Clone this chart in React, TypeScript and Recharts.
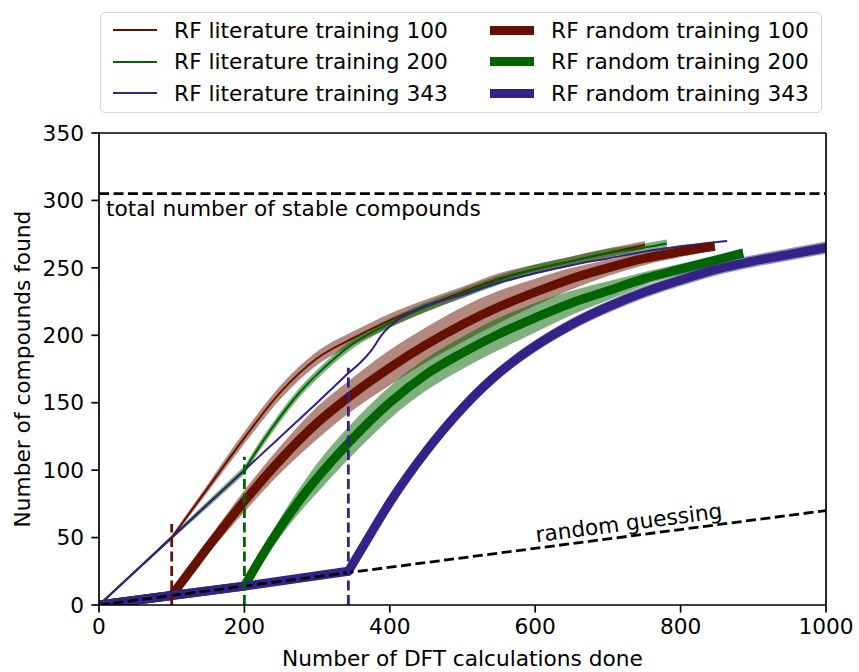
import React from 'react';
import {
  ComposedChart,
  Line,
  Area,
  XAxis,
  YAxis,
  ReferenceLine,
  ReferenceDot,
  Legend,
} from 'recharts';

const FONT = '"DejaVu Sans", sans-serif';
const FONT_SIZE = 21.7;

const BROWN = '#661100';
const GREEN = '#006400';
const BLUE = '#332288';

const xTicks = [0, 200, 400, 600, 800, 1000];
const yTicks = [0, 50, 100, 150, 200, 250, 300, 350];

// number of stable compounds in the full set
const totalStable = 305;

// expected yield when picking compounds at random
const randomGuessing = [
  { x: 0, y: 0 },
  { x: 1000, y: 70 },
];

// [DFT calculations done, mean compounds found, std over runs]
type Pt = [number, number, number];

const litTraining100: Pt[] = [
  [0, 0, 0], [50, 25, 0.5], [100, 50, 1.5], [150, 87, 3], [200, 124, 4.5],
  [250, 158, 5], [300, 183, 5], [350, 198, 5], [400, 211, 5], [450, 222, 4.5],
  [500, 232, 4], [550, 242, 4], [600, 249, 3.5], [650, 255, 3.5], [700, 261, 3.5],
  [751, 267, 3],
];

const litTraining200: Pt[] = [
  [0, 0, 0], [50, 25, 0.5], [100, 50, 1.5], [150, 75, 2.5], [200, 100, 3],
  [225, 121, 3.5], [250, 140, 3.5], [275, 157, 3.5], [300, 171, 3.5], [350, 194, 3.5],
  [400, 209, 3.5], [450, 221, 3.5], [500, 231, 3.5], [550, 241, 3.5], [600, 249, 3.5],
  [650, 255, 3.5], [700, 261, 3], [750, 265, 3], [781, 268, 3],
];

const litTraining343: Pt[] = [
  [0, 0, 0], [100, 50, 0.5], [200, 100, 0.5], [250, 125, 0.5], [300, 150, 0.5],
  [343, 172, 0.5], [360, 180, 0.5], [375, 189, 0.5], [390, 201, 0.5], [410, 211, 0.5],
  [440, 220, 0.5], [500, 230, 0.5], [550, 239, 0.5], [600, 246, 0.5], [650, 252, 0.5],
  [700, 257, 0.5], [750, 262, 0.5], [800, 266, 0.5], [864, 270, 0.5],
];

const randTraining100: Pt[] = [
  [0, 0, 0], [50, 3.5, 0], [100, 7, 0.5], [125, 25, 3], [150, 43, 5],
  [200, 77, 8], [250, 108, 10], [300, 135, 12], [343, 154, 12], [400, 176, 13],
  [450, 193, 13], [500, 208, 13], [550, 221, 12], [600, 232, 10], [650, 242, 8],
  [700, 250, 6], [750, 257, 5], [800, 262, 4], [847, 266, 3],
];

const randTraining200: Pt[] = [
  [0, 0, 0], [100, 7, 0], [200, 14, 0.5], [225, 37, 4], [250, 58, 7],
  [275, 77, 9], [300, 94, 11], [343, 120, 12], [400, 150, 12], [450, 171, 12],
  [500, 187, 12], [550, 201, 12], [600, 213, 11], [650, 224, 9], [700, 233, 7],
  [750, 242, 5], [800, 249, 4], [850, 256, 3.5], [886, 261, 3.5],
];

const randTraining343: Pt[] = [
  [0, 0, 0], [100, 7, 0.5], [200, 14, 1], [343, 25, 2], [375, 54, 3.5],
  [400, 76, 4.5], [450, 114, 4.5], [500, 146, 4.5], [550, 172, 4.5], [600, 192, 4.5],
  [650, 208, 4.5], [700, 221, 4.5], [750, 232, 4.5], [800, 241, 4.5], [850, 249, 4.5],
  [900, 255, 4.5], [950, 260, 4.5], [1000, 265, 4.5],
];

// size of each training set, and how high its marker goes
const trainingSizes = [100, 200, 343];
const cutoffTop = [60, 110, 176];
const cutoffColors = [BROWN, GREEN, BLUE];

const toRows = (pts: Pt[]) =>
  pts.map(([x, y, sd]) => ({ x, y, band: [y - sd, y + sd] }));

const seriesList = [
  { name: 'RF literature training 100', pts: litTraining100, train: trainingSizes[0], color: BROWN, width: 2 },
  { name: 'RF literature training 200', pts: litTraining200, train: trainingSizes[1], color: GREEN, width: 2 },
  { name: 'RF literature training 343', pts: litTraining343, train: trainingSizes[2], color: BLUE, width: 2 },
  { name: 'RF random training 100', pts: randTraining100, train: trainingSizes[0], color: BROWN, width: 9 },
  { name: 'RF random training 200', pts: randTraining200, train: trainingSizes[1], color: GREEN, width: 9 },
  { name: 'RF random training 343', pts: randTraining343, train: trainingSizes[2], color: BLUE, width: 9 },
];

const textStyle = { fill: '#000', fontSize: FONT_SIZE, fontFamily: FONT };
const DASH = '10 4.5';

const LegendBox = () => (
  <div
    style={{
      position: 'relative',
      width: 722,
      height: 101,
      boxSizing: 'border-box',
      border: '1.7px solid #d6d6d6',
      borderRadius: 5,
      background: '#fff',
      fontFamily: FONT,
      fontSize: FONT_SIZE,
      color: '#000',
    }}
  >
    {seriesList.map((s, i) => {
      const col = i < 3 ? 0 : 1;
      const row = i % 3;
      return (
        <div
          key={s.name}
          style={{
            position: 'absolute',
            left: col ? 389.3 : 12.3,
            top: 1.5 + row * 31.5,
            height: 31.5,
            display: 'flex',
            alignItems: 'center',
            whiteSpace: 'nowrap',
          }}
        >
          <span
            style={{
              display: 'inline-block',
              width: 43.4,
              height: s.width,
              background: s.color,
              marginRight: 17.4,
            }}
          />
          <span>{s.name}</span>
        </div>
      );
    })}
  </div>
);

const YLabel = (props: any) => {
  const vb = props.viewBox || { y: 133, height: 472 };
  const x = 30;
  const y = vb.y + vb.height / 2;
  return (
    <text
      x={x}
      y={y}
      transform={`rotate(-90 ${x} ${y})`}
      textAnchor="middle"
      {...textStyle}
    >
      Number of compounds found
    </text>
  );
};

const GuessLabel = (props: any) => {
  const vb = props.viewBox || {};
  const x = vb.cx ?? vb.x;
  const y = vb.cy ?? vb.y;
  return (
    <text x={x} y={y} transform={`rotate(-7.4 ${x} ${y})`} textAnchor="middle" {...textStyle}>
      random guessing
    </text>
  );
};

// Each curve is straight until its training set is used up, then bends;
// draw the two stretches separately so the corner stays sharp.
const renderSeries = (s: (typeof seriesList)[number]) => {
  const rows = toRows(s.pts);
  const head = rows.filter((r) => r.x <= s.train);
  const tail = rows.filter((r) => r.x >= s.train);
  return [
    <Area
      key={`${s.name}-band-a`}
      data={head}
      dataKey="band"
      type="linear"
      stroke="none"
      fill={s.color}
      fillOpacity={0.5}
      legendType="none"
      isAnimationActive={false}
    />,
    <Area
      key={`${s.name}-band-b`}
      data={tail}
      dataKey="band"
      type="monotone"
      stroke="none"
      fill={s.color}
      fillOpacity={0.5}
      legendType="none"
      isAnimationActive={false}
    />,
    <Line
      key={`${s.name}-a`}
      data={head}
      dataKey="y"
      name={s.name}
      type="linear"
      stroke={s.color}
      strokeWidth={s.width}
      strokeLinecap="round"
      dot={false}
      activeDot={false}
      isAnimationActive={false}
    />,
    <Line
      key={`${s.name}-b`}
      data={tail}
      dataKey="y"
      name={s.name}
      type="monotone"
      stroke={s.color}
      strokeWidth={s.width}
      dot={false}
      activeDot={false}
      legendType="none"
      isAnimationActive={false}
    />,
  ];
};

export default function App() {
  return (
    <div style={{ position: 'absolute', left: 0, top: 0, width: 859, height: 672, background: '#fff' }}>
      <ComposedChart width={859} height={672} margin={{ top: 133, right: 33, bottom: 0, left: 0 }}>
        <XAxis
          type="number"
          dataKey="x"
          domain={[0, 1000]}
          ticks={xTicks}
          interval={0}
          allowDataOverflow
          height={67}
          tickSize={7.6}
          tickMargin={6.4}
          tick={textStyle}
          axisLine={{ stroke: '#000', strokeWidth: 1.7 }}
          tickLine={{ stroke: '#000', strokeWidth: 1.7 }}
          label={{ value: 'Number of DFT calculations done', position: 'insideBottom', offset: 6, ...textStyle }}
        />
        <YAxis
          type="number"
          domain={[0, 350]}
          ticks={yTicks}
          interval={0}
          allowDataOverflow
          width={99}
          tickSize={7.6}
          tickMargin={7.4}
          tick={textStyle}
          axisLine={{ stroke: '#000', strokeWidth: 1.7 }}
          tickLine={{ stroke: '#000', strokeWidth: 1.7 }}
          label={{ content: YLabel }}
        />
        <Legend
          layout="horizontal"
          verticalAlign="middle"
          align="center"
          wrapperStyle={{ top: 12, left: 100, width: 722, height: 101 }}
          content={() => <LegendBox />}
        />

        {seriesList.map(renderSeries)}

        <Line
          data={randomGuessing}
          dataKey="y"
          type="linear"
          stroke="#000"
          strokeWidth={2.8}
          strokeDasharray={DASH}
          dot={false}
          activeDot={false}
          legendType="none"
          isAnimationActive={false}
        />

        <ReferenceLine
          y={totalStable}
          stroke="#000"
          strokeWidth={2.8}
          strokeDasharray={DASH}
          label={{ value: 'total number of stable compounds', position: 'insideTopLeft', offset: 7, ...textStyle }}
        />
        <ReferenceDot x={730} y={55.5} r={0} stroke="none" fill="none" label={{ content: GuessLabel }} />

        {trainingSizes.map((x, i) => (
          <ReferenceLine
            key={x}
            segment={[{ x, y: 0 }, { x, y: cutoffTop[i] }]}
            stroke={cutoffColors[i]}
            strokeWidth={2.8}
            strokeDasharray={DASH}
          />
        ))}

        {/* closing frame on the top and right */}
        <ReferenceLine y={350} stroke="#000" strokeWidth={1.7} />
        <ReferenceLine x={1000} stroke="#000" strokeWidth={1.7} />
      </ComposedChart>
    </div>
  );
}
